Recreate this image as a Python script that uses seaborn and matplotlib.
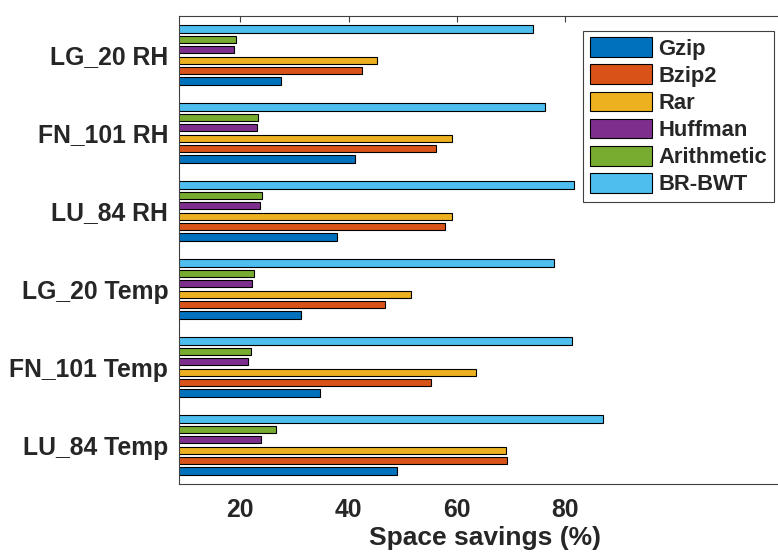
import numpy as np
import pandas as pd
import matplotlib
matplotlib.use("Agg")
import matplotlib.pyplot as plt
from matplotlib.patches import Patch
import seaborn as sns

datasets = ["LG_20 RH", "FN_101 RH", "LU_84 RH", "LG_20 Temp", "FN_101 Temp", "LU_84 Temp"]
methods = ["Gzip", "Bzip2", "Rar", "Huffman", "Arithmetic", "BR-BWT"]
gzip = [27.5, 41.2, 37.9, 31.3, 34.8, 48.9]
bzip2 = [42.5, 56.1, 57.8, 46.8, 55.3, 69.3]
rar = [45.2, 59.0, 59.0, 51.6, 63.6, 69.0]
huffman = [18.8, 23.1, 23.7, 22.2, 21.5, 23.9]
arithmetic = [19.3, 23.3, 24.1, 22.6, 22.0, 26.6]
brbwt = [74.0, 76.2, 81.7, 78.0, 81.3, 86.9]
colors = ["#0072BD", "#D95319", "#EDB120", "#7E2F8E", "#77AC30", "#4DBEEE"]
xticks = [20, 40, 60, 80]
xlabel = "Space savings (%)"

series = [gzip, bzip2, rar, huffman, arithmetic, brbwt]
rows = []
for m, vals in zip(methods, series):
    for d, v in zip(datasets, vals):
        rows.append({"dataset": d, "method": m, "value": v})
df = pd.DataFrame(rows)
palette = dict(zip(methods, colors))

sns.set_style("white")
plt.rcParams["font.family"] = ["Liberation Sans", "DejaVu Sans"]
plt.rcParams["font.weight"] = "bold"

W, H = 778, 552
fig = plt.figure(figsize=(W / 100, H / 100), dpi=100)
left_px, right_px, top_px, bot_px = 179.3, 791, 16, 484
ax = fig.add_axes([left_px / W, 1 - bot_px / H, (right_px - left_px) / W, (bot_px - top_px) / H])

sns.barplot(data=df, x="value", y="dataset", hue="method", order=datasets,
            hue_order=methods[::-1], palette=palette, orient="h", ax=ax,
            width=0.8, gap=0.3, saturation=1, errorbar=None, legend=False,
            edgecolor="black", linewidth=0.8)

px_per_unit = 5.417
xmin = 8.75
ax.set_xlim(xmin, xmin + (right_px - left_px) / px_per_unit)
ax.set_ylim(5.5, -0.5)
ax.set_xticks(xticks)
ax.set_xticklabels([str(t) for t in xticks])
ax.set_ylabel("")
ax.set_xlabel(xlabel, fontsize=19, fontweight="bold", color="#262626", labelpad=3)

ax.tick_params(axis="x", direction="in", length=4, width=0.8, color="#404040",
               top=True, labelsize=17.8, pad=10, labelcolor="#262626")
ax.tick_params(axis="y", direction="in", length=4.5, width=0.8, color="#a0a0a0",
               labelsize=17.8, pad=8, labelcolor="#262626")
for lab in ax.get_xticklabels() + ax.get_yticklabels():
    lab.set_fontweight("bold")
for s in ["left", "top", "bottom"]:
    ax.spines[s].set_color("#404040")
    ax.spines[s].set_linewidth(0.8)
ax.spines["right"].set_visible(False)

handles = [Patch(facecolor=c, edgecolor="black", linewidth=0.8, label=m) for m, c in zip(methods, colors)]
leg = ax.legend(handles=handles, loc="upper left", bbox_to_anchor=(583 / W, 1 - 30.7 / H),
                bbox_transform=fig.transFigure, borderaxespad=0, fancybox=False,
                framealpha=1, edgecolor="#404040", prop={"size": 15.8, "weight": "bold"},
                handlelength=2.85, handleheight=1.0, handletextpad=0.28,
                borderpad=0.3, labelspacing=0.22)
leg.get_frame().set_linewidth(0.8)

fig.savefig("out.png", dpi=100)
